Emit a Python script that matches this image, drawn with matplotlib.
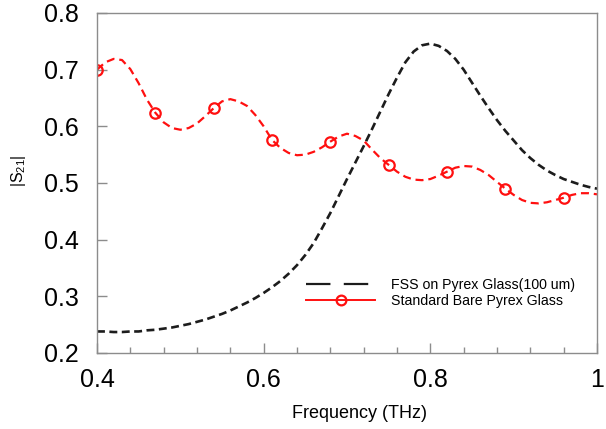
import numpy as np
import matplotlib
matplotlib.use("Agg")
import matplotlib.pyplot as plt
from matplotlib.lines import Line2D
from matplotlib.ticker import MultipleLocator

plt.rcParams['font.family'] = ['Liberation Sans', 'DejaVu Sans']
plt.rcParams['mathtext.fontset'] = 'custom'
plt.rcParams['mathtext.rm'] = 'Liberation Sans'
plt.rcParams['mathtext.default'] = 'regular'

# ---- data ----
freq = np.round(np.linspace(0.40, 1.00, 61), 2)

fss_pyrex = [0.238, 0.238, 0.237, 0.237, 0.238, 0.238, 0.240, 0.241, 0.243, 0.245,
             0.248, 0.251, 0.255, 0.259, 0.264, 0.269, 0.275, 0.282, 0.289, 0.297,
             0.306, 0.316, 0.327, 0.340, 0.355, 0.373, 0.394, 0.420, 0.447, 0.477,
             0.507, 0.536, 0.565, 0.595, 0.626, 0.657, 0.686, 0.713, 0.732, 0.743,
             0.746, 0.742, 0.733, 0.719, 0.700, 0.677, 0.654, 0.632, 0.611, 0.592,
             0.575, 0.558, 0.544, 0.532, 0.522, 0.514, 0.507, 0.502, 0.497, 0.493,
             0.490]

bare_pyrex = [0.700, 0.713, 0.719, 0.717, 0.701, 0.676, 0.647, 0.624, 0.607, 0.597,
              0.594, 0.597, 0.605, 0.618, 0.632, 0.644, 0.648, 0.644, 0.636, 0.620,
              0.600, 0.576, 0.562, 0.553, 0.549, 0.550, 0.555, 0.563, 0.573, 0.582,
              0.587, 0.583, 0.575, 0.559, 0.544, 0.532, 0.520, 0.511, 0.506, 0.505,
              0.507, 0.513, 0.520, 0.527, 0.530, 0.529, 0.523, 0.514, 0.502, 0.490,
              0.479, 0.470, 0.465, 0.464, 0.466, 0.470, 0.474, 0.479, 0.482, 0.482,
              0.480]

series_labels = ['FSS on Pyrex Glass(100 um)', 'Standard Bare Pyrex Glass']
xtick_values = [0.4, 0.6, 0.8, 1.0]
xtick_labels = ['0.4', '0.6', '0.8', '1']
ytick_values = [0.2, 0.3, 0.4, 0.5, 0.6, 0.7, 0.8]
ytick_labels = ['0.2', '0.3', '0.4', '0.5', '0.6', '0.7', '0.8']

# ---- figure ----
fig = plt.figure(figsize=(6.06, 4.29), dpi=100)
ax = fig.add_axes([97/606, 76/429, 500/606, 340/429])

black = '#1c1c1c'
red = '#ff1010'

ax.plot(freq, fss_pyrex, color=black, lw=1.9, dashes=(3.0, 1.7),
        solid_capstyle='butt', dash_capstyle='butt', solid_joinstyle='round')
ax.plot(freq, bare_pyrex, color=red, lw=1.6, dashes=(3.6, 2.2),
        marker='o', markevery=7, markersize=7.5, markerfacecolor='none',
        markeredgecolor=red, markeredgewidth=1.6, dash_capstyle='butt')

ax.set_xlim(0.4, 1.0)
ax.set_ylim(0.2, 0.8)
ax.set_xticks(xtick_values)
ax.set_xticklabels(xtick_labels)
ax.xaxis.set_minor_locator(MultipleLocator(0.04))
ax.set_yticks(ytick_values)
ax.set_yticklabels(ytick_labels)

grey = '#8c8c8c'
for s in ax.spines.values():
    s.set_color(grey)
    s.set_linewidth(1.0)

ax.tick_params(axis='x', which='major', direction='in', length=7, width=1.0,
               color=grey, labelsize=18, pad=10.5)
ax.tick_params(axis='x', which='minor', direction='in', length=4, width=1.0,
               color=grey)
ax.tick_params(axis='y', which='major', direction='in', length=7.5, width=1.0,
               color=grey, labelsize=18, pad=13)

ax.set_xlabel('Frequency (THz)', fontsize=13)
ax.xaxis.set_label_coords(0.526, -0.152)
fig.text(19/606, 1 - 171/429, '|S$_{21}$|', rotation=90, ha='center',
         va='center', fontsize=11.5)

handles = [
    Line2D([], [], color=black, lw=1.6, dashes=(11, 6)),
    Line2D([], [], color=red, lw=1.4, marker='o', markersize=7,
           markerfacecolor='none', markeredgecolor=red, markeredgewidth=1.6),
]
leg = ax.legend(handles, series_labels, loc='upper left',
                bbox_to_anchor=(0.418, 0.222), frameon=False, fontsize=10.2,
                handlelength=4.9, handletextpad=1.1, labelspacing=0.2,
                borderpad=0, borderaxespad=0)

fig.savefig('out.png', dpi=100)
